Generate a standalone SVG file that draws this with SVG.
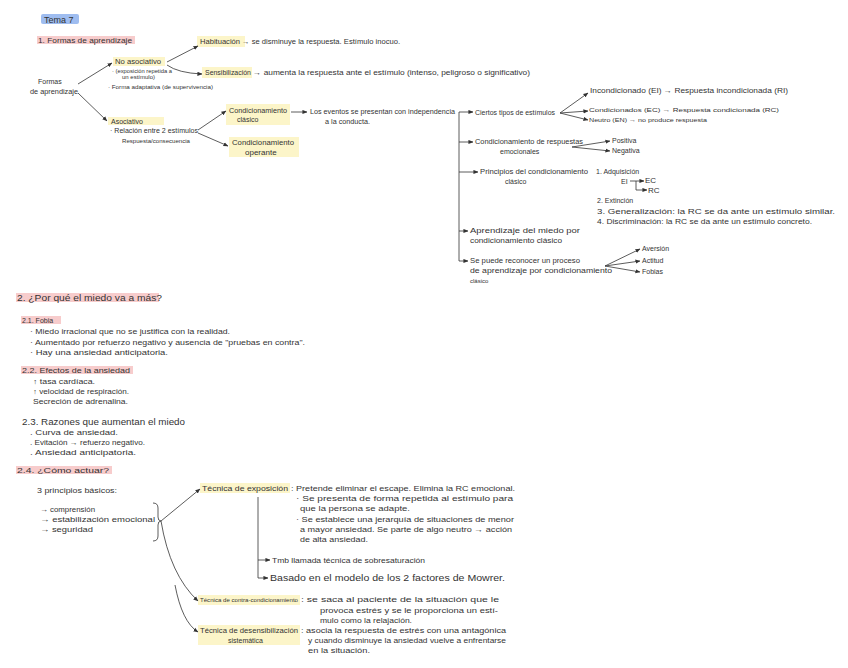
<svg xmlns="http://www.w3.org/2000/svg" width="848" height="668" viewBox="0 0 848 668">
<style>
text{font-family:"Liberation Sans",Arial,sans-serif;fill:#333;}
.s6{font-size:6px}.s7{font-size:7px}.s8{font-size:8px}.s9{font-size:9px}
.hy{fill:#fcf5c9}.hp{fill:#f7cccc}.hb{fill:#9fbdf0}
.c{fill:none;stroke:#333;stroke-width:0.8}
.a{marker-end:url(#ar)}
</style>
<defs>
<marker id="ar" viewBox="0 0 6 6" refX="5.5" refY="3" markerWidth="5" markerHeight="5" orient="auto" markerUnits="userSpaceOnUse"><path d="M0,0.5 L6,3 L0,5.5 Z" fill="#333"/></marker>
</defs>
<rect width="848" height="668" fill="#fff"/>

<g id="title"><rect class="hb" x="41" y="14" width="38" height="10" rx="2"/><text class="s9" x="44" y="23">Tema 7</text></g>
<g id="h1"><rect class="hp" x="37" y="36" width="98" height="8"/><text class="s8" x="38" y="43" textLength="94" lengthAdjust="spacingAndGlyphs">1. Formas de aprendizaje</text></g>
<g id="formas"><text class="s7" x="38" y="84">Formas</text><text class="s7" x="30" y="94" textLength="48" lengthAdjust="spacingAndGlyphs">de aprendizaje</text></g>
<g id="noasoc"><rect class="hy" x="113" y="57" width="52" height="9"/><text class="s7" x="115" y="64" textLength="46" lengthAdjust="spacingAndGlyphs">No asociativo</text>
<text class="s6" x="112" y="73" textLength="60" lengthAdjust="spacingAndGlyphs">· (exposición repetida a</text><text class="s6" x="122" y="79">un estímulo)</text>
<text class="s6" x="108" y="89" textLength="105" lengthAdjust="spacingAndGlyphs">· Forma adaptativa (de supervivencia)</text></g>
<g id="asoc"><rect class="hy" x="108" y="117" width="56" height="8"/><text class="s7" x="111" y="124">Asociativo</text>
<text class="s7" x="110" y="133" textLength="88" lengthAdjust="spacingAndGlyphs">· Relación entre 2 estímulos</text><text class="s6" x="122" y="143" textLength="68" lengthAdjust="spacingAndGlyphs">Respuesta/consecuencia</text></g>
<g id="habituacion"><rect class="hy" x="197" y="36" width="48" height="11"/><text class="s7" x="200" y="44" textLength="40" lengthAdjust="spacingAndGlyphs">Habituación</text><text class="s7" x="242" y="44" textLength="158" lengthAdjust="spacingAndGlyphs">→ se disminuye la respuesta. Estímulo inocuo.</text></g>
<g id="sensibilizacion"><rect class="hy" x="202" y="67" width="50" height="11"/><text class="s7" x="205" y="75" textLength="46" lengthAdjust="spacingAndGlyphs">Sensibilización</text><text class="s7" x="253" y="75" textLength="277" lengthAdjust="spacingAndGlyphs">→ aumenta la respuesta ante el estímulo (intenso, peligroso o significativo)</text></g>
<g id="cclasico"><rect class="hy" x="226" y="104" width="64" height="21"/><text class="s7" x="229" y="113" textLength="58" lengthAdjust="spacingAndGlyphs">Condicionamiento</text><text class="s7" x="237" y="122">clásico</text></g>
<g id="coperante"><rect class="hy" x="229" y="137" width="70" height="20"/><text class="s8" x="232" y="145" textLength="62" lengthAdjust="spacingAndGlyphs">Condicionamiento</text><text class="s8" x="245" y="155">operante</text></g>
<g id="eventos"><text class="s7" x="310" y="114" textLength="145" lengthAdjust="spacingAndGlyphs">Los eventos se presentan con independencia</text><text class="s7" x="325" y="124" textLength="45" lengthAdjust="spacingAndGlyphs">a la conducta.</text></g>
<g id="ciertos"><text class="s7" x="475" y="115" textLength="80" lengthAdjust="spacingAndGlyphs">Ciertos tipos de estímulos</text></g>
<g id="ei"><text class="s7" x="590" y="93" textLength="198" lengthAdjust="spacingAndGlyphs">Incondicionado (EI) → Respuesta incondicionada (RI)</text></g>
<g id="ec"><text class="s6" x="589" y="112" textLength="190" lengthAdjust="spacingAndGlyphs">Condicionados (EC) → Respuesta condicionada (RC)</text></g>
<g id="en"><text class="s6" x="589" y="122" textLength="118" lengthAdjust="spacingAndGlyphs">Neutro (EN) → no produce respuesta</text></g>
<g id="emocionales"><text class="s7" x="475" y="144" textLength="108" lengthAdjust="spacingAndGlyphs">Condicionamiento de respuestas</text><text class="s7" x="500" y="154">emocionales</text></g>
<g id="positiva"><text class="s7" x="612" y="143">Positiva</text></g>
<g id="negativa"><text class="s7" x="612" y="153">Negativa</text></g>
<g id="principios"><text class="s7" x="480" y="174" textLength="108" lengthAdjust="spacingAndGlyphs">Principios del condicionamiento</text><text class="s7" x="505" y="184">clásico</text></g>
<g id="leyes"><text class="s7" x="596" y="174">1. Adquisición</text><text class="s7" x="621" y="184">EI</text><text class="s8" x="645" y="183">EC</text><text class="s8" x="648" y="193">RC</text>
<path class="c a" d="M630,181 L644,181"/><path class="c a" d="M636,181 L636,190 L647,190"/>
<text class="s7" x="597" y="203">2. Extinción</text>
<text class="s8" x="597" y="214" textLength="238" lengthAdjust="spacingAndGlyphs">3. Generalización: la RC se da ante un estímulo similar.</text>
<text class="s7" x="597" y="224" textLength="215" lengthAdjust="spacingAndGlyphs">4. Discriminación: la RC se da ante un estímulo concreto.</text></g>
<g id="miedo"><text class="s8" x="470" y="233" textLength="110" lengthAdjust="spacingAndGlyphs">Aprendizaje del miedo por</text><text class="s7" x="470" y="243" textLength="92" lengthAdjust="spacingAndGlyphs">condicionamiento clásico</text></g>
<g id="proceso"><text class="s8" x="470" y="263" textLength="110" lengthAdjust="spacingAndGlyphs">Se puede reconocer un proceso</text><text class="s7" x="470" y="273" textLength="142" lengthAdjust="spacingAndGlyphs">de aprendizaje por condicionamiento</text><text class="s6" x="470" y="283">clásico</text></g>
<g id="aversion"><text class="s7" x="642" y="251">Aversión</text></g>
<g id="actitud"><text class="s7" x="642" y="263">Actitud</text></g>
<g id="fobias"><text class="s7" x="642" y="274">Fobias</text></g>

<g id="sec2"><rect class="hp" x="16" y="293" width="143" height="9"/><text class="s9" x="17" y="301" textLength="145" lengthAdjust="spacingAndGlyphs">2. ¿Por qué el miedo va a más?</text></g>
<g id="fobia"><rect class="hp" x="21" y="316" width="40" height="8"/><text class="s7" x="22" y="323">2.1. Fobia</text>
<text class="s7" x="30" y="334" textLength="200" lengthAdjust="spacingAndGlyphs">· Miedo irracional que no se justifica con la realidad.</text>
<text class="s8" x="30" y="345" textLength="275" lengthAdjust="spacingAndGlyphs">· Aumentado por refuerzo negativo y ausencia de "pruebas en contra".</text>
<text class="s7" x="30" y="355" textLength="138" lengthAdjust="spacingAndGlyphs">· Hay una ansiedad anticipatoria.</text></g>
<g id="efectos"><rect class="hp" x="21" y="366" width="112" height="8"/><text class="s8" x="22" y="373" textLength="108" lengthAdjust="spacingAndGlyphs">2.2. Efectos de la ansiedad</text>
<text class="s7" x="33" y="384" textLength="62" lengthAdjust="spacingAndGlyphs">↑ tasa cardíaca.</text>
<text class="s7" x="33" y="394" textLength="96" lengthAdjust="spacingAndGlyphs">↑ velocidad de respiración.</text>
<text class="s7" x="33" y="404" textLength="95" lengthAdjust="spacingAndGlyphs">Secreción de adrenalina.</text></g>
<g id="razones"><text class="s9" x="22" y="425" textLength="163" lengthAdjust="spacingAndGlyphs">2.3. Razones que aumentan el miedo</text>
<text class="s7" x="30" y="435" textLength="88" lengthAdjust="spacingAndGlyphs">. Curva de ansiedad.</text>
<text class="s7" x="30" y="445" textLength="115" lengthAdjust="spacingAndGlyphs">. Evitación → refuerzo negativo.</text>
<text class="s7" x="30" y="455" textLength="106" lengthAdjust="spacingAndGlyphs">. Ansiedad anticipatoria.</text></g>
<g id="actuar"><rect class="hp" x="16" y="466" width="96" height="8"/><text class="s8" x="17" y="473" textLength="92" lengthAdjust="spacingAndGlyphs">2.4. ¿Cómo actuar?</text>
<text class="s8" x="37" y="493" textLength="80" lengthAdjust="spacingAndGlyphs">3 principios básicos:</text></g>
<g id="principios3"><text class="s8" x="40" y="512" textLength="55" lengthAdjust="spacingAndGlyphs">→ comprensión</text>
<text class="s8" x="40" y="522" textLength="115" lengthAdjust="spacingAndGlyphs">→ estabilización emocional</text>
<text class="s8" x="40" y="532" textLength="53" lengthAdjust="spacingAndGlyphs">→ seguridad</text></g>
<g id="exposicion"><rect class="hy" x="200" y="483" width="90" height="10"/><text class="s8" x="202" y="491" textLength="86" lengthAdjust="spacingAndGlyphs">Técnica de exposición</text>
<text class="s7" x="291" y="491" textLength="224" lengthAdjust="spacingAndGlyphs">: Pretende eliminar el escape. Elimina la RC emocional.</text>
<text class="s8" x="296" y="501" textLength="217" lengthAdjust="spacingAndGlyphs">· Se presenta de forma repetida al estímulo para</text>
<text class="s8" x="300" y="511" textLength="110" lengthAdjust="spacingAndGlyphs">que la persona se adapte.</text>
<text class="s7" x="296" y="522" textLength="218" lengthAdjust="spacingAndGlyphs">· Se establece una jerarquía de situaciones de menor</text>
<text class="s7" x="300" y="532" textLength="212" lengthAdjust="spacingAndGlyphs">a mayor ansiedad. Se parte de algo neutro → acción</text>
<text class="s7" x="300" y="542" textLength="68" lengthAdjust="spacingAndGlyphs">de alta ansiedad.</text></g>
<g id="sobresaturacion"><text class="s7" x="272" y="563" textLength="153" lengthAdjust="spacingAndGlyphs">Tmb llamada técnica de sobresaturación</text></g>
<g id="mowrer"><text class="s9" x="270" y="581" textLength="235" lengthAdjust="spacingAndGlyphs">Basado en el modelo de los 2 factores de Mowrer.</text></g>
<g id="contracond"><rect class="hy" x="198" y="595" width="102" height="10"/><text class="s6" x="200" y="602" textLength="98" lengthAdjust="spacingAndGlyphs">Técnica de contra-condicionamiento</text>
<text class="s7" x="301" y="602" textLength="198" lengthAdjust="spacingAndGlyphs">: se saca al paciente de la situación que le</text>
<text class="s7" x="320" y="613" textLength="178" lengthAdjust="spacingAndGlyphs">provoca estrés y se le proporciona un estí-</text>
<text class="s7" x="320" y="623" textLength="92" lengthAdjust="spacingAndGlyphs">mulo como la relajación.</text></g>
<g id="desensib"><rect class="hy" x="198" y="625" width="102" height="20"/><text class="s7" x="200" y="633" textLength="98" lengthAdjust="spacingAndGlyphs">Técnica de desensibilización</text><text class="s7" x="228" y="643">sistemática</text>
<text class="s7" x="301" y="633" textLength="205" lengthAdjust="spacingAndGlyphs">: asocia la respuesta de estrés con una antagónica</text>
<text class="s7" x="308" y="643" textLength="198" lengthAdjust="spacingAndGlyphs">y cuando disminuye la ansiedad vuelve a enfrentarse</text>
<text class="s7" x="308" y="653" textLength="62" lengthAdjust="spacingAndGlyphs">en la situación.</text></g>

<g id="connectors">
<path class="c a" d="M78,84 L112,63"/>
<path class="c a" d="M78,93 L107,121"/>
<path class="c a" d="M167,62 L198,46"/>
<path class="c a" d="M167,65 Q178,73 202,74"/>
<path class="c a" d="M198,130 L226,111"/>
<path class="c a" d="M198,133 L228,146"/>
<path class="c a" d="M291,112 L307,112"/>
<path class="c" d="M459,112 L459,261"/>
<path class="c a" d="M459,112 L473,112"/>
<path class="c a" d="M459,142 L473,142"/>
<path class="c a" d="M459,172 L478,172"/>
<path class="c a" d="M459,231 L468,231"/>
<path class="c a" d="M459,261 L468,261"/>
<path class="c a" d="M560,113 L588,93"/>
<path class="c a" d="M560,113 L588,111"/>
<path class="c a" d="M560,113 L588,120"/>
<path class="c a" d="M572,147 L610,141"/>
<path class="c a" d="M572,147 L610,151"/>
<path class="c a" d="M605,266 L640,249"/>
<path class="c a" d="M605,266 L640,261"/>
<path class="c a" d="M605,266 L640,272"/>
<path class="c" d="M153,503 Q158,503 158,508 L158,517 Q158,521 161,521 Q158,521 158,525 L158,536 Q158,541 153,541"/>
<path class="c a" d="M161,521 L200,489"/>
<path class="c a" d="M161,521 Q170,575 198,601"/>
<path class="c a" d="M175,585 Q182,622 198,632"/>
<path class="c" d="M258,497 L258,578"/>
<path class="c a" d="M258,560 L270,560"/>
<path class="c a" d="M258,578 L268,578"/>
</g>
</svg>
